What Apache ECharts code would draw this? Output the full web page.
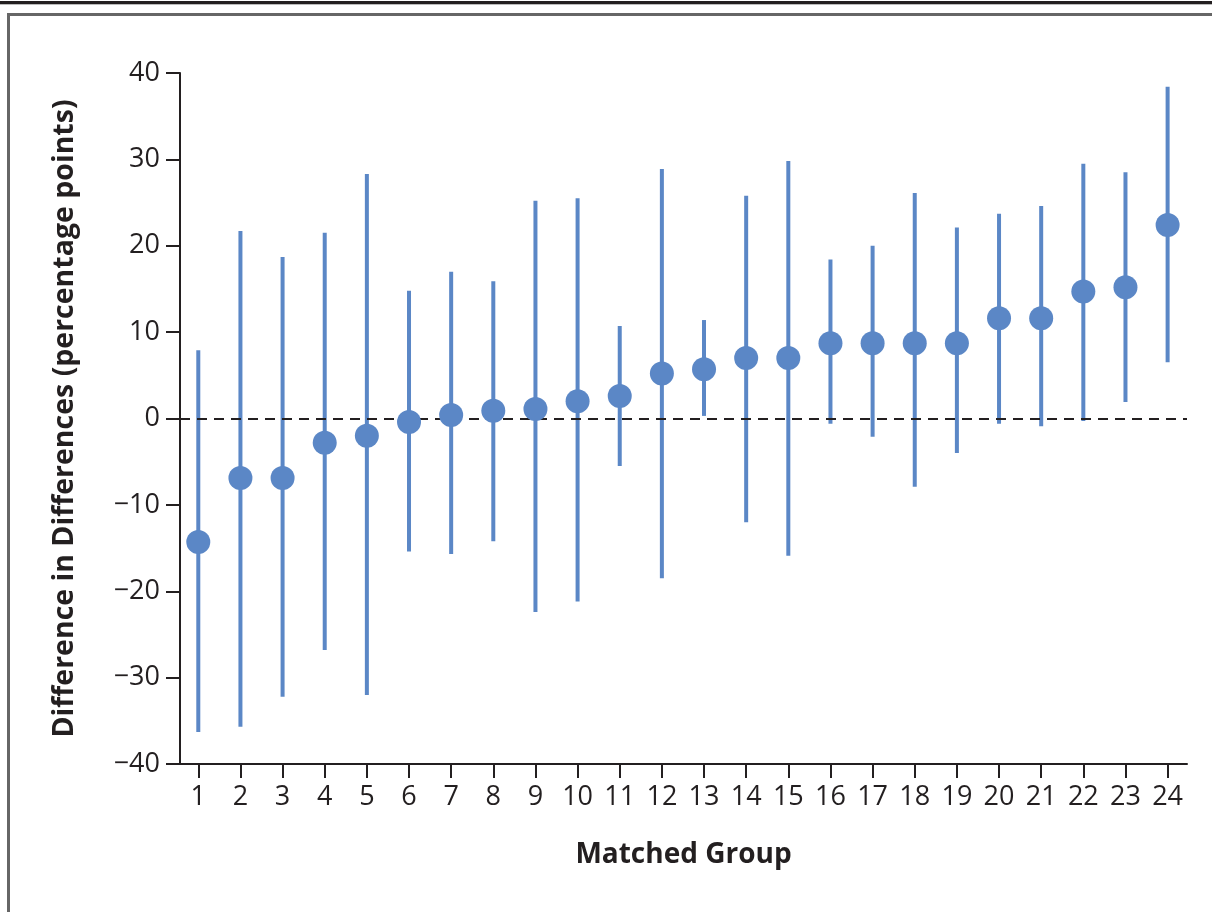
<!DOCTYPE html>
<html>
<head>
<meta charset="utf-8">
<script src="https://cdn.jsdelivr.net/npm/echarts@6/dist/echarts.min.js"></script>
<style>
  html, body { margin: 0; padding: 0; background: #fff; }
  #chart { width: 1212px; height: 912px; }
</style>
</head>
<body>
<div id="chart"></div>
<script>
const groups = [1, 2, 3, 4, 5, 6, 7, 8, 9, 10, 11, 12, 13, 14, 15, 16, 17, 18, 19, 20, 21, 22, 23, 24];
const estimate = [-14.3, -6.9, -6.9, -2.8, -2.0, -0.4, 0.4, 0.9, 1.1, 2.0, 2.6, 5.2, 5.7, 7.0, 7.0, 8.7, 8.7, 8.7, 8.7, 11.6, 11.6, 14.7, 15.2, 22.4];
const upper = [7.9, 21.7, 18.7, 21.5, 28.3, 14.8, 17.0, 15.9, 25.2, 25.5, 10.7, 28.9, 11.4, 25.8, 29.8, 18.4, 20.0, 26.1, 22.1, 23.7, 24.6, 29.5, 28.5, 38.4];
const lower = [-36.3, -35.7, -32.2, -26.8, -32.0, -15.4, -15.7, -14.2, -22.4, -21.2, -5.5, -18.5, 0.3, -12.0, -15.9, -0.6, -2.1, -7.9, -4.0, -0.6, -0.9, -0.3, 1.9, 6.5];
const yTicks = [-40, -30, -20, -10, 0, 10, 20, 30, 40];

const blue = '#5b87c6';
const ink = '#231f20';
const font = '"Open Sans", "Noto Sans", sans-serif';

const chart = echarts.init(document.getElementById('chart'));

chart.setOption({
  backgroundColor: '#fff',
  animation: false,
  graphic: [
    { type: 'rect', shape: { x: 0, y: 1, width: 1212, height: 3 }, style: { fill: ink } },
    { type: 'rect', shape: { x: 0, y: 4, width: 1212, height: 1 }, style: { fill: '#bbb' } },
    { type: 'rect', shape: { x: 8.5, y: 14.5, width: 1260, height: 960 }, style: { fill: 'none', stroke: '#666', lineWidth: 3 } }
  ],
  grid: { left: 180, right: 25, top: 73, bottom: 148 },
  xAxis: {
    type: 'value',
    min: 0.566,
    max: 24.46,
    name: 'Matched Group',
    nameLocation: 'middle',
    nameGap: 77,
    nameTextStyle: { fontFamily: font, fontSize: 28, fontWeight: 'bold', color: ink },
    splitLine: { show: false },
    axisLine: { onZero: false, lineStyle: { color: ink, width: 2 } },
    axisTick: { show: true, customValues: groups, length: 14, lineStyle: { color: ink, width: 2 } },
    axisLabel: { customValues: groups, margin: 20, fontFamily: font, fontSize: 27, color: ink }
  },
  yAxis: {
    type: 'value',
    min: -40,
    max: 40,
    interval: 10,
    name: 'Difference in Differences (percentage points)',
    nameLocation: 'middle',
    nameGap: 101,
    nameTextStyle: { fontFamily: font, fontSize: 28.5, fontWeight: 'bold', color: ink },
    splitLine: { show: false },
    axisLine: { show: true, onZero: false, lineStyle: { color: ink, width: 2 } },
    axisTick: { show: true, length: 14, lineStyle: { color: ink, width: 2 } },
    axisLabel: {
      margin: 20,
      fontFamily: font,
      fontSize: 27,
      color: ink,
      customValues: yTicks,
      formatter: (v) => String(v).replace('-', '\u2212')
    }
  },
  series: [
    {
      type: 'custom',
      data: groups.map((g, i) => [g, lower[i], upper[i]]),
      renderItem: (params, api) => {
        const lo = api.coord([api.value(0), api.value(1)]);
        const hi = api.coord([api.value(0), api.value(2)]);
        return {
          type: 'line',
          shape: { x1: lo[0], y1: lo[1], x2: hi[0], y2: hi[1] },
          style: { stroke: blue, lineWidth: 4 }
        };
      },
      z: 2
    },
    {
      type: 'scatter',
      data: groups.map((g, i) => [g, estimate[i]]),
      symbol: 'circle',
      symbolSize: 24,
      itemStyle: { color: blue, opacity: 1 },
      z: 4,
      markLine: {
        silent: true,
        symbol: 'none',
        label: { show: false },
        lineStyle: { color: ink, type: [10, 7], width: 2 },
        data: [{ yAxis: 0 }],
        z: 3
      }
    }
  ]
});
</script>
</body>
</html>
